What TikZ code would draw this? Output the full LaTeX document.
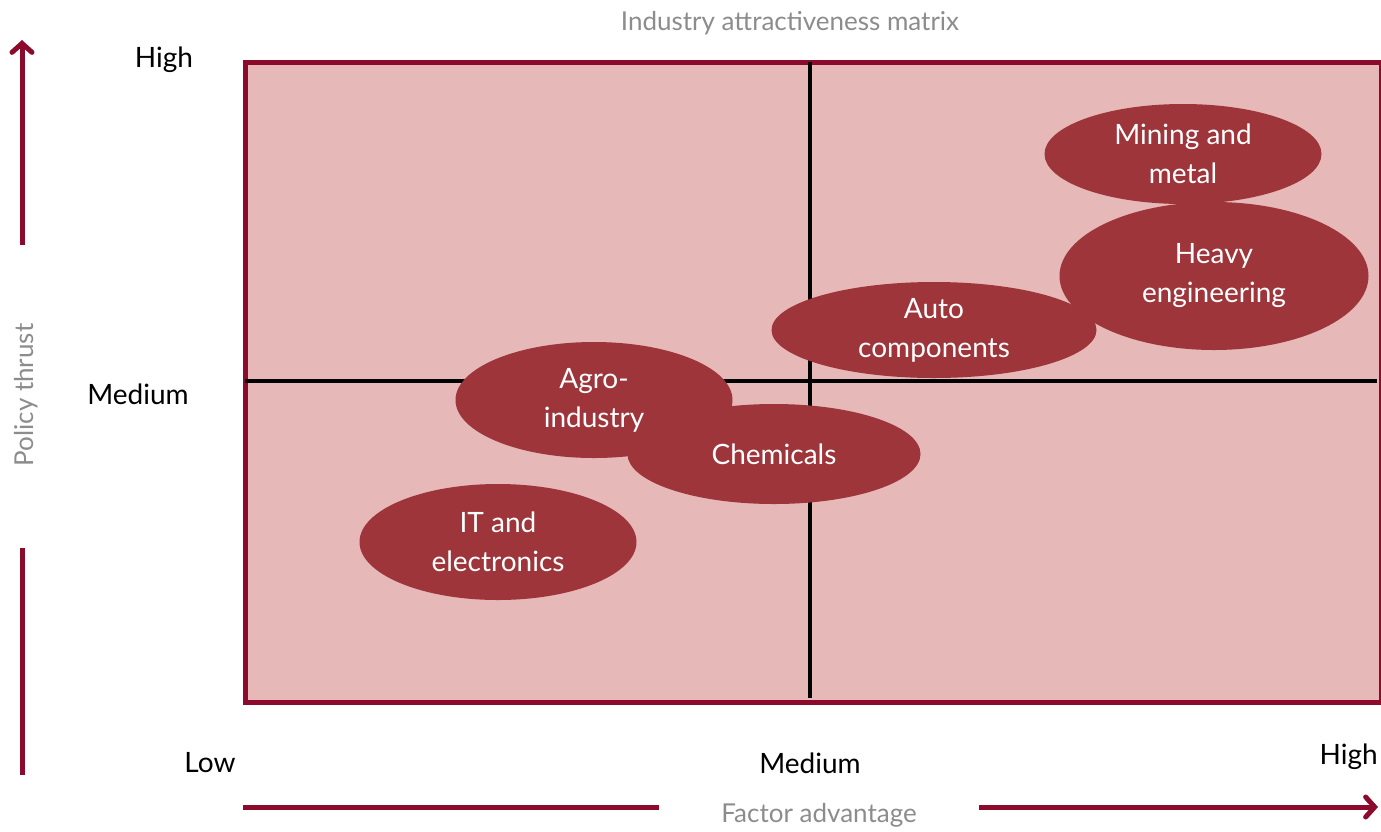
\documentclass[tikz,border=0pt]{standalone}
\usepackage{fontspec}
\setmainfont{Lato}
\usetikzlibrary{shapes.geometric,arrows.meta}
\definecolor{frame}{HTML}{8C0A2C}
\definecolor{cellfill}{HTML}{E6B8B7}
\definecolor{blob}{HTML}{9E353B}
\definecolor{axisgray}{HTML}{8C8C8C}
\begin{document}
\begin{tikzpicture}[x=1pt,y=-1pt,
  blobnode/.style={ellipse,fill=blob,draw=none,inner sep=0pt,text=white,align=center,
    font=\fontsize{28}{39}\selectfont},
  lbl/.style={inner sep=0pt,text=black,font=\fontsize{28}{32}\selectfont},
  axlbl/.style={inner sep=0pt,text=axisgray,font=\fontsize{26}{30}\selectfont},
  axline/.style={draw=frame,line width=5pt},
  divider/.style={draw=black,line width=4.5pt}]
\useasboundingbox (0,0) rectangle (1381,831);
% matrix
\node[draw=frame,fill=cellfill,line width=5pt,minimum width=1136pt,minimum height=640pt,anchor=north west,inner sep=0pt] (box) at (243,60) {};
\coordinate (vt) at (810,62);
\coordinate (vb) at (810,698);
\coordinate (hl) at (245,381);
\coordinate (hr) at (1377,381);
\draw[divider] (vt) -- (vb);
\draw[divider] (hl) -- (hr);
% blobs
\node[blobnode,minimum width=277pt,minimum height=100pt] (mining) at (1183,154) {Mining and\\metal};
\node[blobnode,minimum width=309pt,minimum height=148pt] (heavy) at (1214,276) {Heavy\\engineering};
\node[blobnode,minimum width=325pt,minimum height=96pt] (auto) at (934,330) {Auto\\components};
\node[blobnode,minimum width=277pt,minimum height=116pt] (agro) at (594,400) {Agro-\\industry};
\node[blobnode,minimum width=293pt,minimum height=100pt] (chem) at (774,454) {Chemicals};
\node[blobnode,minimum width=277pt,minimum height=116pt] (it) at (498,542) {IT and\\electronics};
% labels
\node[axlbl] (title) at (790,23) {Industry attractiveness matrix};
\node[lbl] (yhigh) at (164,60) {High};
\node[lbl] (ymed) at (138,394) {Medium};
\node[lbl] (xlow) at (210,763) {Low};
\node[lbl] (xmed) at (810,763) {Medium};
\node[lbl,anchor=east] (xhigh) at (1378,757) {High};
\node[axlbl,rotate=90] (ytitle) at (26,395) {Policy thrust};
\node[axlbl] (xtitle) at (819,815) {Factor advantage};
% axis arrows
\coordinate (ya) at (22,245);
\coordinate (yb) at (22,40);
\coordinate (yc) at (22,548);
\coordinate (yd) at (22,775);
\draw[axline,-{Straight Barb[length=9pt,width=20pt,line cap=round]}] (ya) -- (yb);
\draw[axline] (yc) -- (yd);
\coordinate (xa) at (243,807);
\coordinate (xb) at (659,807);
\coordinate (xc) at (979,807);
\coordinate (xd) at (1378,807);
\draw[axline] (xa) -- (xb);
\draw[axline,-{Straight Barb[length=9pt,width=20pt,line cap=round]}] (xc) -- (xd);
\end{tikzpicture}
\end{document}
